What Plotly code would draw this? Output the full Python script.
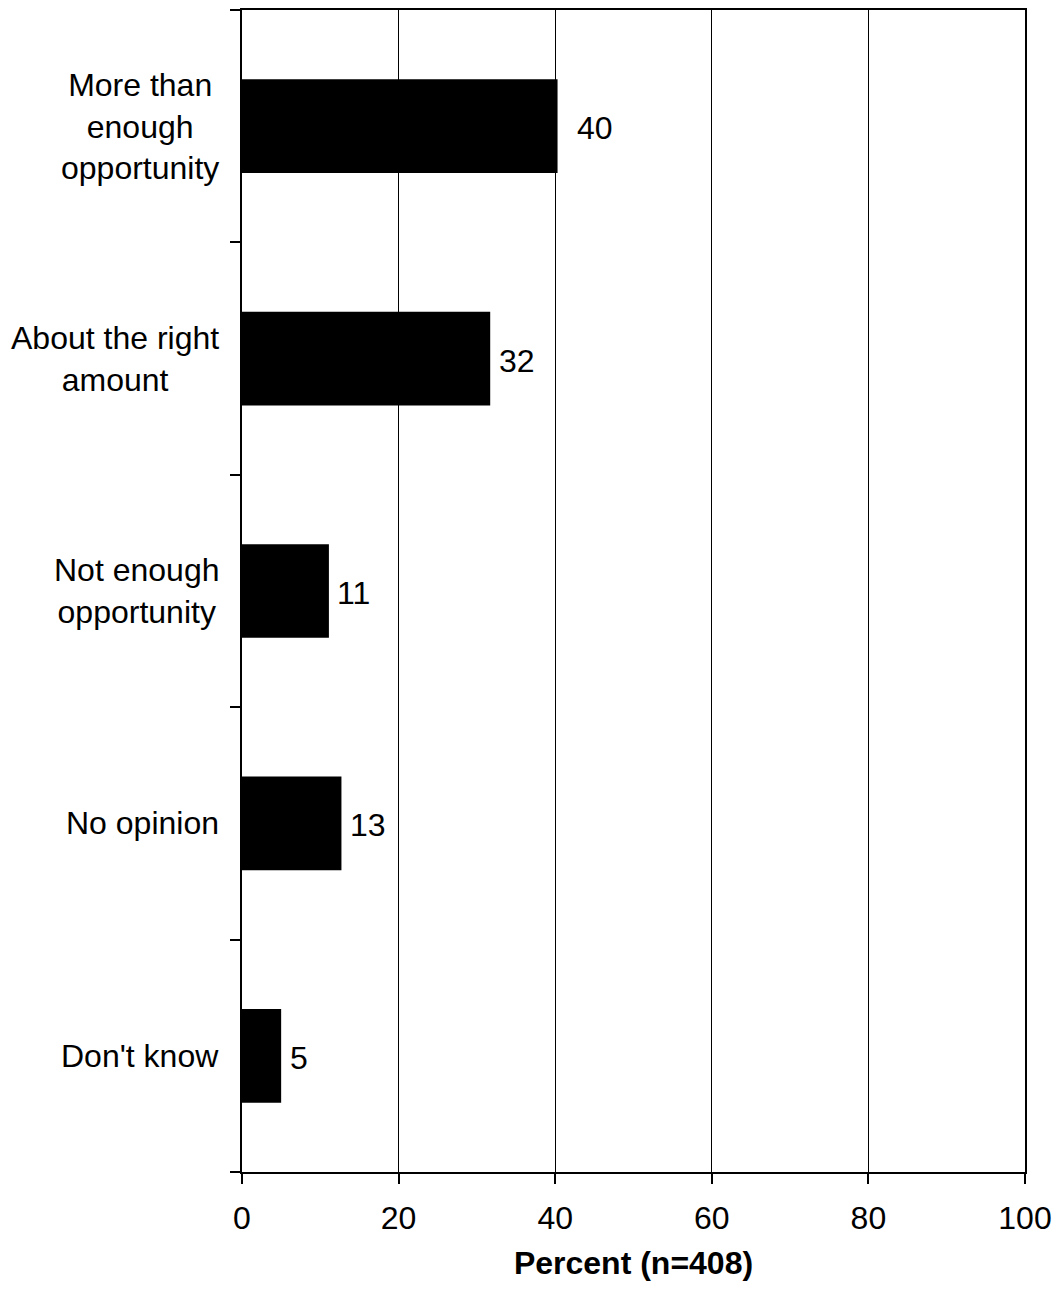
import plotly.graph_objects as go

categories = ["More than<br>enough<br>opportunity", "About the right<br>amount",
              "Not enough<br>opportunity", "No opinion", "Don't know"]
values = [40.3, 31.7, 11.1, 12.7, 5.0]
value_labels = ["40", "32", "11", "13", "5"]
x_ticks = [0, 20, 40, 60, 80, 100]
x_title = "Percent (n=408)"

FONT = "Liberation Sans, Arial, sans-serif"
FS = 32

fig = go.Figure()
fig.add_trace(go.Bar(
    x=values, y=list(range(len(categories))), orientation="h",
    marker=dict(color="black", line=dict(width=0)),
    width=0.403, hoverinfo="skip",
))

label_shift = [17, 7, 6, 7, 7]
annotations = []
for i, (v, t) in enumerate(zip(values, value_labels)):
    annotations.append(dict(x=v, y=i, xref="x", yref="y", text=t, showarrow=False,
                            xanchor="left", yanchor="middle", xshift=label_shift[i], yshift=-2,
                            font=dict(family=FONT, size=FS, color="black")))
for i, c in enumerate(categories):
    annotations.append(dict(x=0, y=i, xref="paper", yref="y", text=c, showarrow=False,
                            xanchor="right", yanchor="middle", align="center", xshift=-21,
                            font=dict(family=FONT, size=FS, color="black")))

fig.update_layout(
    width=1054, height=1290,
    margin=dict(l=242, r=29, t=10, b=118),
    paper_bgcolor="white", plot_bgcolor="white",
    showlegend=False,
    font=dict(family=FONT, size=FS, color="black"),
    annotations=annotations,
    xaxis=dict(range=[0, 100], tickvals=x_ticks, ticktext=[str(t) for t in x_ticks],
               automargin=False,
               showgrid=True, gridcolor="black", gridwidth=1,
               showline=True, linecolor="black", linewidth=2, mirror=True,
               ticks="outside", ticklen=10, tickwidth=2, tickcolor="black",
               ticklabelstandoff=7,
               tickfont=dict(family=FONT, size=FS, color="black"),
               zeroline=False, fixedrange=True,
               title=dict(text="<b>" + x_title + "</b>", standoff=16,
                          font=dict(family=FONT, size=FS, color="black"))),
    yaxis=dict(range=[len(categories) - 0.5, -0.5],
               tickvals=[i - 0.5 for i in range(len(categories) + 1)],
               automargin=False,
               showticklabels=False, showgrid=False, zeroline=False,
               showline=True, linecolor="black", linewidth=2, mirror=True,
               ticks="outside", ticklen=10, tickwidth=2, tickcolor="black",
               fixedrange=True),
)

fig.write_html("out.html",
               config={"displayModeBar": False, "responsive": False},
               post_script="document.body.style.margin='0';document.body.style.overflow='hidden';document.documentElement.style.overflow='hidden';")
